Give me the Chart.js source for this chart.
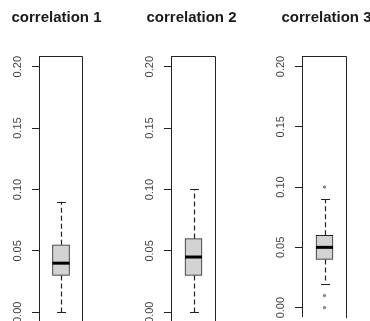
<!DOCTYPE html>
<html>
<head>
<meta charset="utf-8">
<script src="https://cdn.jsdelivr.net/npm/chart.js"></script>
<style>
  html, body { margin: 0; padding: 0; background: #fff; overflow: hidden; }
  body { width: 370px; height: 321px; position: relative; }
  canvas { position: absolute; top: 0; }
</style>
</head>
<body>
<canvas id="c0"></canvas>
<canvas id="c1"></canvas>
<canvas id="c2"></canvas>
<script>
// values
const panelTitles = ["correlation 1", "correlation 2", "correlation 3"];
const lowerWhisker = [0.0, 0.0, 0.02];
const lowerQuartile = [0.03, 0.03, 0.04];
const medians = [0.04, 0.045, 0.05];
const upperQuartile = [0.055, 0.06, 0.06];
const upperWhisker = [0.09, 0.10, 0.09];
const outliers = [[], [], [0.10, 0.01, 0.0]];
const yTickStep = 0.05;
const yMin = -0.0071;
const yMax = 0.2087;

// where each canvas sits on the page (frame left edge = left + 39)
const placement = [
  { left: 0, width: 113, rightGap: 30 },
  { left: 132, width: 119, rightGap: 35 },
  { left: 263, width: 127, rightGap: 43 }
];

const ink = "#222";

// whiskers, caps, median and the top/right frame lines
const boxExtras = {
  id: "boxExtras",
  afterDatasetsDraw(chart) {
    const i = chart.options.plugins.boxExtras.index;
    const y = chart.scales.y;
    const bar = chart.getDatasetMeta(0).data[0];
    const cx = Math.round(bar.x) + 0.5;
    const half = bar.width / 2;
    const area = chart.chartArea;
    const ctx = chart.ctx;
    ctx.save();
    ctx.strokeStyle = ink;
    ctx.lineWidth = 1.2;

    // dashed whiskers
    ctx.setLineDash([5, 3]);
    ctx.beginPath();
    ctx.moveTo(cx, y.getPixelForValue(upperQuartile[i]));
    ctx.lineTo(cx, y.getPixelForValue(upperWhisker[i]));
    ctx.moveTo(cx, y.getPixelForValue(lowerQuartile[i]));
    ctx.lineTo(cx, y.getPixelForValue(lowerWhisker[i]));
    ctx.stroke();
    ctx.setLineDash([]);

    // caps
    ctx.lineWidth = 1;
    ctx.beginPath();
    [upperWhisker[i], lowerWhisker[i]].forEach(v => {
      const py = Math.round(y.getPixelForValue(v)) + 0.5;
      ctx.moveTo(cx - 4.5, py);
      ctx.lineTo(cx + 4.5, py);
    });
    ctx.stroke();

    // median
    ctx.lineWidth = 3;
    ctx.strokeStyle = "#000";
    ctx.beginPath();
    const my = y.getPixelForValue(medians[i]);
    ctx.moveTo(bar.x - half, my);
    ctx.lineTo(bar.x + half, my);
    ctx.stroke();

    // frame (left side is the axis border)
    ctx.lineWidth = 1;
    ctx.strokeStyle = ink;
    ctx.beginPath();
    const top = Math.round(area.top) + 0.5;
    const right = Math.round(area.right) - 0.5;
    ctx.moveTo(Math.round(area.left), top);
    ctx.lineTo(right, top);
    ctx.lineTo(right, area.bottom + 2);
    ctx.stroke();
    ctx.restore();
  }
};

panelTitles.forEach((title, i) => {
  const p = placement[i];
  const canvas = document.getElementById("c" + i);
  canvas.width = p.width;
  canvas.height = 321;
  canvas.style.left = p.left + "px";

  new Chart(canvas.getContext("2d"), {
    type: "bar",
    data: {
      labels: [title],
      datasets: [
        {
          data: [[lowerQuartile[i], upperQuartile[i]]],
          backgroundColor: "#d3d3d3",
          borderColor: ink,
          borderWidth: 1,
          borderSkipped: false,
          barThickness: 17,
          yAxisID: "y"
        },
        {
          type: "line",
          data: outliers[i].map(v => ({ x: title, y: v })),
          showLine: false,
          pointRadius: 1.2,
          pointBorderWidth: 0.8,
          pointBorderColor: "#666",
          pointBackgroundColor: "#999",
          yAxisID: "y"
        }
      ]
    },
    plugins: [boxExtras],
    options: {
      responsive: false,
      animation: false,
      layout: { padding: 0 },
      scales: {
        x: { type: "category", display: false },
        y: {
          position: "left",
          min: yMin,
          max: yMax,
          grid: { drawOnChartArea: false, tickLength: 7, color: ink },
          border: { color: ink },
          ticks: {
            stepSize: yTickStep,
            includeBounds: false,
            minRotation: 90,
            maxRotation: 90,
            crossAlign: "center",
            padding: 3,
            color: "#444",
            font: { family: "Liberation Sans", size: 11 },
            callback: v => v.toFixed(2)
          },
          afterFit: s => {
            s.width = 39;
            s.paddingTop = 0;
            s.paddingBottom = 0;
          }
        },
        yRight: {
          type: "linear",
          position: "right",
          grid: { display: false },
          border: { display: false },
          ticks: { display: false },
          afterFit: s => {
            s.width = p.rightGap;
            s.paddingTop = 0;
            s.paddingBottom = 0;
          }
        }
      },
      plugins: {
        legend: { display: false },
        tooltip: { enabled: false },
        title: {
          display: true,
          text: title,
          color: "#1a1a1a",
          font: { family: "Liberation Sans", size: 15, weight: "bold" },
          padding: { top: 9, bottom: 29 }
        },
        boxExtras: { index: i }
      }
    }
  });
});
</script>
</body>
</html>
